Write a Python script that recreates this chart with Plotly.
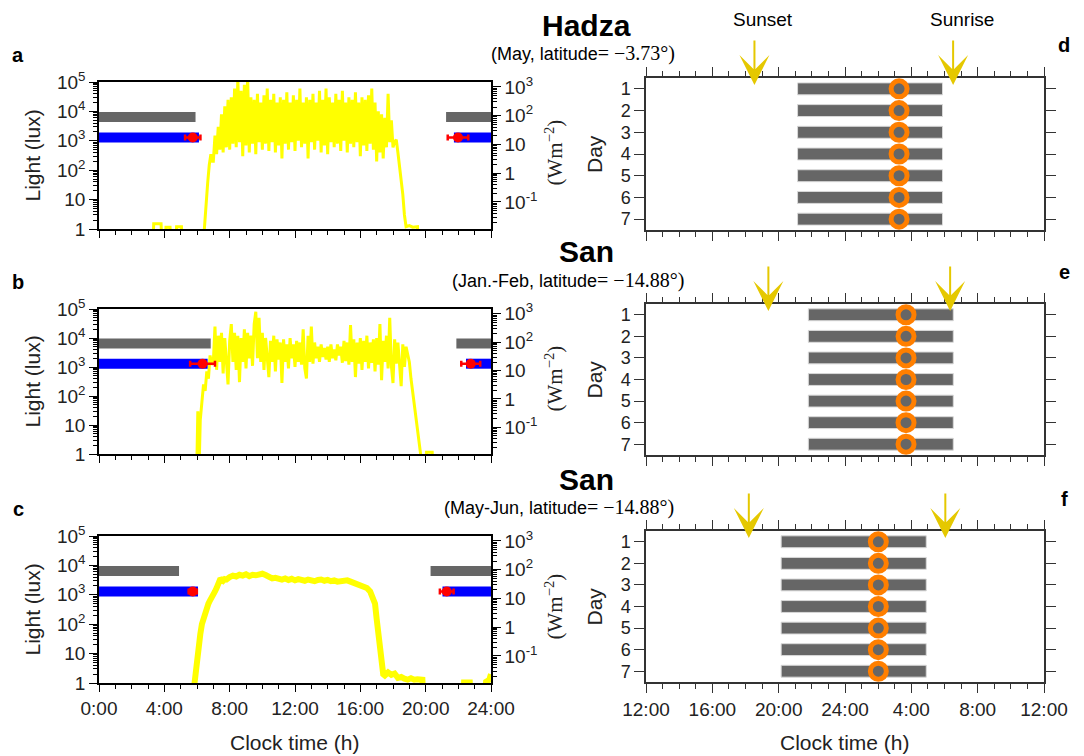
import numpy as np
import plotly.graph_objects as go

# ------------------------------------------------------------------ data
GROUPS = ["Hadza", "San", "San"]
SUB_SANS = ["(May, latitude", "(Jan.-Feb, latitude", "(May-Jun, latitude"]
SUB_SERIF = ["= \u22123.73\u00b0)", "= \u221214.88\u00b0)", "= \u221214.88\u00b0)"]
LEFT_LETTERS = ["a", "b", "c"]
RIGHT_LETTERS = ["d", "e", "f"]

HOUR_TICKS_LEFT = [0, 4, 8, 12, 16, 20, 24]
HOUR_LABELS_LEFT = ["0:00", "4:00", "8:00", "12:00", "16:00", "20:00", "24:00"]
HOUR_TICKS_RIGHT = [12, 16, 20, 24, 28, 32, 36]
HOUR_LABELS_RIGHT = ["12:00", "16:00", "20:00", "24:00", "4:00", "8:00", "12:00"]
DAYS = [1, 2, 3, 4, 5, 6, 7]
LUX_TICKS = [1, 10, 100, 1000, 10000, 100000]
LUX_LABELS = ["1", "10", "10<sup>2</sup>", "10<sup>3</sup>", "10<sup>4</sup>", "10<sup>5</sup>"]
IRR_TICKS = [0.1, 1, 10, 100, 1000]
IRR_LABELS = ["10<sup>-1</sup>", "1", "10", "10<sup>2</sup>", "10<sup>3</sup>"]

SAMPLE_STEP_H = 0.1  # sampling interval of the daytime light records (h)

# ---- panel a (Hadza, May): light in lux
A_PRE_T = [0.0, 3.30, 3.35, 3.80, 3.85, 4.05, 4.10, 4.35, 4.40, 4.70, 4.75, 5.05, 5.10,
           6.40, 6.45, 6.55, 6.65, 6.75, 6.85, 6.95]
A_PRE_LUX = [0.3, 0.3, 1.5, 1.5, 0.3, 0.3, 1.15, 1.15, 0.3, 0.3, 1.2, 1.2, 0.3,
             0.3, 1.0, 8, 35, 150, 350, 200]
A_DAY_START = 7.0
A_DAY_LUX = [200, 1500, 350, 3000, 500, 8000, 400, 15000, 600, 25000,
             500, 30000, 800, 60000, 600, 130000, 900, 50000, 300, 80000,
             700, 150000, 400, 30000, 800, 25000, 350, 40000, 900, 20000,
             500, 35000, 800, 60000, 450, 25000, 900, 40000, 400, 20000,
             700, 30000, 250, 25000, 800, 45000, 500, 20000, 900, 35000,
             450, 25000, 1000, 60000, 600, 20000, 800, 30000, 250, 25000,
             900, 40000, 500, 20000, 1000, 50000, 400, 25000, 700, 60000,
             350, 30000, 900, 20000, 600, 40000, 800, 25000, 450, 50000,
             1000, 20000, 400, 30000, 800, 25000, 600, 45000, 900, 20000,
             300, 30000, 700, 25000, 450, 35000, 800, 60000, 500, 20000,
             200, 10000, 400, 8000, 250, 6000, 600, 40000, 900, 5000, 600]
A_POST_T = [18.1, 18.2, 18.3, 18.4, 18.5, 18.6, 18.7, 18.8, 19.0, 19.2, 19.5, 19.55, 24.0]
A_POST_LUX = [900, 1100, 400, 150, 50, 15, 3, 1.2, 1.3, 1.15, 1.2, 0.3, 0.3]

# ---- panel b (San, Jan.-Feb.)
B_PRE_T = [0.0, 5.95, 6.0, 6.05, 6.1, 6.15, 6.2, 6.3, 6.4, 6.5, 6.6, 6.7, 6.8, 6.9]
B_PRE_LUX = [0.3, 0.3, 0.8, 30, 0.8, 1.0, 15, 80, 250, 150, 700, 400, 2500, 1200]
B_DAY_START = 7.0
B_DAY_LUX = [1500, 25000, 800, 12000, 1500, 15000, 600, 10000, 1200, 250,
             8000, 30000, 1500, 15000, 800, 12000, 300, 10000, 1500, 20000,
             900, 15000, 2000, 12000, 1100, 30000, 80000, 2000, 50000, 1500,
             15000, 800, 10000, 2000, 450, 8000, 1500, 12000, 700, 9000,
             1800, 7000, 280, 9000, 1500, 6000, 900, 10000, 2000, 6000,
             1000, 8000, 1500, 7000, 1200, 20000, 900, 400, 12000, 1500,
             25000, 1300, 7000, 2000, 5000, 1500, 6000, 2200, 4500, 1800,
             5000, 1500, 6000, 2000, 4000, 1700, 6000, 2500, 5000, 1400,
             8000, 1600, 7000, 1200, 28000, 1500, 9000, 450, 7000, 1300,
             10000, 800, 8000, 1500, 12000, 900, 7000, 1400, 9000, 700,
             10000, 1200, 30000, 350, 8000, 1500, 12000, 900, 50000, 1100,
             280, 9000, 1300, 7000, 800, 220, 6000, 1000, 5000, 3000, 1500]
B_POST_T = [19.1, 19.2, 19.3, 19.4, 19.5, 19.6, 19.7, 19.75, 20.0, 20.05, 20.4, 20.45, 24.0]
B_POST_LUX = [400, 150, 50, 15, 6, 2, 0.9, 0.3, 0.3, 1.15, 1.15, 0.3, 0.3]

# ---- panel c (San, May-Jun)
C_T = [0.0, 5.80, 5.85, 6.0, 6.1, 6.2, 6.3, 6.4, 6.5, 6.6, 6.7, 6.8, 6.9, 7.0, 7.1, 7.2,
       7.3, 7.4, 7.5, 7.6, 7.7, 7.8, 8.0, 8.2, 8.4, 8.6, 8.8, 9.0, 9.2, 9.4, 9.6, 9.8,
       10.0, 10.2, 10.4, 10.6, 10.8, 11.0, 11.2, 11.4, 11.6, 11.8, 12.0, 12.2, 12.4,
       12.6, 12.8, 13.0, 13.2, 13.4, 13.6, 13.8, 14.0, 14.2, 14.4, 14.6, 14.8, 15.0,
       15.2, 15.4, 15.6, 15.8, 16.0, 16.2, 16.4, 16.6, 16.8, 16.9, 17.0, 17.1, 17.2,
       17.3, 17.4, 17.5, 17.7, 17.9, 18.1, 18.3, 18.5, 18.7, 18.9, 19.1, 19.3, 19.5,
       19.8, 19.85, 22.3, 22.35, 22.7, 22.75, 23.6, 23.7, 23.9, 24.0]
C_LUX = [0.3, 0.5, 1, 7, 20, 45, 100, 160, 250, 350, 500, 650, 900, 1100, 1300, 1700,
         2400, 3200, 3300, 3000, 3400, 3300, 4000, 4500, 4200, 4800, 4500, 5000, 4300,
         4800, 4600, 5000, 5200, 4700, 4100, 3600, 3800, 3500, 3300, 3600, 3200, 3500,
         3100, 3400, 3200, 3000, 3300, 3100, 2900, 3200, 3300, 3000, 3200, 2900, 3100,
         2800, 3000, 3200, 3100, 2800, 2500, 2400, 2100, 2000, 1700, 1300, 800, 500,
         150, 50, 15, 5, 2, 1.8, 2.3, 1.9, 2.1, 1.5, 1.6, 1.4, 1.3, 1.45, 1.3, 1.35,
         1.3, 0.3, 0.3, 1.05, 1.05, 0.3, 0.3, 1.1, 1.3, 2.0]

# ---- left-panel summary bars (clock time, h)
GRAY_LEVEL_LUX = 6500
BLUE_LEVEL_LUX = 1300
GRAY_MORNING_END = [5.91, 6.84, 4.90]
GRAY_EVENING_START = [21.25, 21.88, 20.30]
BLUE_MORNING_END = [6.12, 6.65, 6.06]
BLUE_EVENING_START = [21.73, 22.47, 21.03]
WAKE_MEAN = [5.74, 6.34, 5.74]
WAKE_SD = [0.47, 0.76, 0.25]
ONSET_MEAN = [21.98, 22.76, 21.29]
ONSET_SD = [0.63, 0.58, 0.42]

# ---- right panels: sleep periods per day (h, 24+ = next day)
SLEEP_ON = [[21.14, 21.14, 21.14, 21.14, 21.14, 21.14, 21.14],
            [21.79, 21.79, 21.79, 21.79, 21.79, 21.79, 21.79],
            [20.15, 20.15, 20.15, 20.15, 20.15, 20.15, 20.15]]
SLEEP_OFF = [[29.88, 29.88, 29.88, 29.88, 29.88, 29.88, 29.88],
             [30.53, 30.53, 30.53, 30.53, 30.53, 30.53, 30.53],
             [28.90, 28.90, 28.90, 28.90, 28.90, 28.90, 28.90]]
SLEEP_MID = [[27.26, 27.26, 27.26, 27.26, 27.26, 27.26, 27.26],
             [27.68, 27.68, 27.68, 27.68, 27.68, 27.68, 27.68],
             [26.01, 26.01, 26.01, 26.01, 26.01, 26.01, 26.01]]
SUNSET = [18.54, 19.38, 18.20]
SUNRISE = [30.52, 30.34, 30.05]

# ------------------------------------------------------------------ layout helpers
PAGE_OFF = 8            # default body margin of the html page
W, H = 1084 - PAGE_OFF, 756 - PAGE_OFF
def px(x):
    return (x - PAGE_OFF) / W
def py(y):
    return 1 - (y - PAGE_OFF) / H

FONT = "Liberation Sans, Arial, sans-serif"
SERIF = "Liberation Serif, Times New Roman, serif"
YELLOW = "#ffff00"
GOLD = "#e5c800"
DARK = "#222222"

LEFT_X = [px(99), px(491)]
RIGHT_X = [px(646), px(1044)]
LEFT_Y = [(82, 229), (309, 454), (536, 683)]
RIGHT_Y = [(78, 230), (304, 455), (531, 682)]

# minor tick marks of the logarithmic axes (2..9 in every decade)
LOG_MINOR = [m * 10.0 ** e for e in range(-3, 6) for m in range(2, 10)]

def day_times(start, n):
    return [start + SAMPLE_STEP_H * k for k in range(n)]

yellow = [
    (A_PRE_T + day_times(A_DAY_START, len(A_DAY_LUX)) + A_POST_T, A_PRE_LUX + A_DAY_LUX + A_POST_LUX),
    (B_PRE_T + day_times(B_DAY_START, len(B_DAY_LUX)) + B_POST_T, B_PRE_LUX + B_DAY_LUX + B_POST_LUX),
    (C_T, C_LUX),
]
yellow_width = [3, 3, 6]

fig = go.Figure()
layout = dict(
    width=W, height=H, margin=dict(l=0, r=0, t=0, b=0, autoexpand=False),
    paper_bgcolor="white", plot_bgcolor="white", showlegend=False,
    barmode="overlay", font=dict(family=FONT, color=DARK, size=16),
)
annotations = []

def note(text, x, y, size, xanchor="center", color=DARK, family=None, angle=0):
    f = dict(size=size, color=color)
    if family:
        f["family"] = family
    return dict(text=text, x=px(x), y=py(y), xref="paper", yref="paper", xanchor=xanchor,
                yanchor="middle", textangle=angle, showarrow=False, font=f)

for i in range(3):
    s = "" if i == 0 else str(i + 1)
    xa, ya = "x" + s, "y" + s
    wa = "y" + str(i + 4)
    xr, yr = "x" + str(i + 4), "y" + str(i + 7)

    # ---------------- left panel traces
    t, lux = yellow[i]
    fig.add_trace(go.Scatter(x=t, y=lux, xaxis=xa, yaxis=ya, mode="lines",
                             line=dict(color=YELLOW, width=yellow_width[i]), hoverinfo="skip"))
    fig.add_trace(go.Scatter(x=[0, GRAY_MORNING_END[i], None, GRAY_EVENING_START[i], 24],
                             y=[GRAY_LEVEL_LUX] * 2 + [None] + [GRAY_LEVEL_LUX] * 2,
                             xaxis=xa, yaxis=ya, mode="lines",
                             line=dict(color="#666666", width=10), hoverinfo="skip"))
    fig.add_trace(go.Scatter(x=[0, BLUE_MORNING_END[i], None, BLUE_EVENING_START[i], 24],
                             y=[BLUE_LEVEL_LUX] * 2 + [None] + [BLUE_LEVEL_LUX] * 2,
                             xaxis=xa, yaxis=ya, mode="lines",
                             line=dict(color="#0000ff", width=10), hoverinfo="skip"))
    fig.add_trace(go.Scatter(x=[WAKE_MEAN[i], ONSET_MEAN[i]], y=[BLUE_LEVEL_LUX] * 2,
                             xaxis=xa, yaxis=ya, mode="markers",
                             marker=dict(color="#ff0000", size=10),
                             error_x=dict(type="data", array=[WAKE_SD[i], ONSET_SD[i]],
                                          color="#ff0000", thickness=2.5, width=3),
                             hoverinfo="skip"))
    # invisible carrier so that the irradiance axis (W m^-2) is drawn
    fig.add_trace(go.Scatter(x=[None], y=[None], xaxis=xa, yaxis=wa, mode="markers",
                             hoverinfo="skip"))

    # ---------------- right panel traces
    dur = [b - a for a, b in zip(SLEEP_ON[i], SLEEP_OFF[i])]
    fig.add_trace(go.Bar(y=DAYS, x=dur, base=SLEEP_ON[i], orientation="h", width=0.55,
                         xaxis=xr, yaxis=yr,
                         marker=dict(color="#666666", line=dict(color="#d9d9d9", width=1)),
                         hoverinfo="skip"))
    fig.add_trace(go.Scatter(x=SLEEP_MID[i], y=DAYS, xaxis=xr, yaxis=yr, mode="markers",
                             marker=dict(size=16, color="#666666",
                                         line=dict(color="#ff7f00", width=5)),
                             cliponaxis=False, hoverinfo="skip"))

    # ---------------- axes
    y0, y1 = LEFT_Y[i]
    last = i == 2
    log_common = dict(
        type="log", automargin=False, tickmode="array",
        ticks="outside", ticklen=8, tickwidth=1.2, tickcolor="black",
        minor=dict(tickmode="array", tickvals=LOG_MINOR, ticks="outside", ticklen=4,
                   tickwidth=1, tickcolor="black", showgrid=False),
        showline=True, linecolor="black", linewidth=1.5,
        showgrid=False, zeroline=False, tickfont=dict(size=19, color=DARK),
    )
    layout["xaxis" + s] = dict(
        domain=LEFT_X, anchor=ya, range=[0, 24], tickmode="array", automargin=False,
        tickvals=HOUR_TICKS_LEFT, ticktext=HOUR_LABELS_LEFT, showticklabels=last,
        ticks="outside", ticklen=7, tickwidth=1.2, tickcolor="black",
        minor=dict(tick0=0, dtick=1, ticks="outside", ticklen=4, tickcolor="black"),
        showline=True, linecolor="black", linewidth=1.5, mirror=True,
        showgrid=False, zeroline=False, tickfont=dict(size=19, color=DARK),
    )
    layout["yaxis" + s] = dict(domain=[py(y1), py(y0)], anchor=xa, range=[0, 5], mirror=False,
                               tickvals=LUX_TICKS, ticktext=LUX_LABELS, **log_common)
    layout["yaxis" + str(i + 4)] = dict(overlaying=ya, anchor=xa, side="right",
                                        range=[-1.94, 3.17], tickvals=IRR_TICKS,
                                        ticktext=IRR_LABELS, **log_common)
    r0, r1 = RIGHT_Y[i]
    layout["xaxis" + str(i + 4)] = dict(
        domain=RIGHT_X, anchor=yr, range=[12, 36], tickmode="array", automargin=False,
        tickvals=HOUR_TICKS_RIGHT, ticktext=HOUR_LABELS_RIGHT, showticklabels=last,
        ticks="outside", ticklen=9, tickwidth=1.2, tickcolor="#333333",
        minor=dict(tick0=12, dtick=1, ticks="outside", ticklen=5, tickcolor="#333333"),
        showline=True, linecolor="#333333", linewidth=1.5, mirror="ticks",
        showgrid=False, zeroline=False, tickfont=dict(size=19, color=DARK),
    )
    layout["yaxis" + str(i + 7)] = dict(
        domain=[py(r1), py(r0)], anchor=xr, range=[7.5, 0.5], tickmode="array",
        automargin=False,
        tickvals=DAYS, ticks="outside", ticklen=10, tickwidth=1.2, tickcolor="#333333",
        showline=True, linecolor="#333333", linewidth=1.5, mirror="ticks",
        showgrid=False, zeroline=False, tickfont=dict(size=18, color=DARK),
    )

    # ---------------- annotations
    mid_l = (y0 + y1) / 2
    annotations.append(note("Light (lux)", 32, mid_l, 21, angle=-90))
    annotations.append(note("(Wm<sup>\u22122</sup>)", 554, mid_l - 3, 21, family=SERIF, angle=-90))
    annotations.append(note("Day", 594, (r0 + r1) / 2, 21, angle=-90))
    annotations.append(note("<b>%s</b>" % LEFT_LETTERS[i], 18, y0 - 27, 20, color="black"))
    annotations.append(note("<b>%s</b>" % RIGHT_LETTERS[i], 1064, r0 - 33 if i == 0 else r0 - 32, 20,
                            color="black"))
    for tsun in (SUNSET[i], SUNRISE[i]):
        annotations.append(dict(text="", x=tsun, xref=xr, y=1, yref=yr + " domain",
                                showarrow=True, ax=0, ay=-46, arrowhead=3, arrowsize=2.5,
                                arrowwidth=2, arrowcolor=GOLD, yshift=-7))

# titles
TITLE_Y = [26, 251, 479]
SUB_Y = [53, 280, 507]
SUB_RIGHT = [677, 686, 676]
for i in range(3):
    annotations.append(note("<b>%s</b>" % GROUPS[i], 586, TITLE_Y[i], 30, color="black"))
    annotations.append(note(SUB_SANS[i] + "<span style='font-family:Liberation Serif;font-size:20px'>"
                            + SUB_SERIF[i] + "</span>", SUB_RIGHT[i], SUB_Y[i], 18,
                            xanchor="right", color="black"))

sun_labels = [dict(text="Sunset", x=SUNSET[0]), dict(text="Sunrise", x=SUNRISE[0])]
for lab in sun_labels:
    annotations.append(dict(text=lab["text"], x=lab["x"], xref="x4", xshift=9, y=py(20), yref="paper",
                            xanchor="center", yanchor="middle", showarrow=False,
                            font=dict(size=19, color="black")))
annotations.append(note("Clock time (h)", 295, 742, 21))
annotations.append(note("Clock time (h)", 845, 742, 21))

layout["annotations"] = annotations
fig.update_layout(**layout)
fig.write_html("out.html")
